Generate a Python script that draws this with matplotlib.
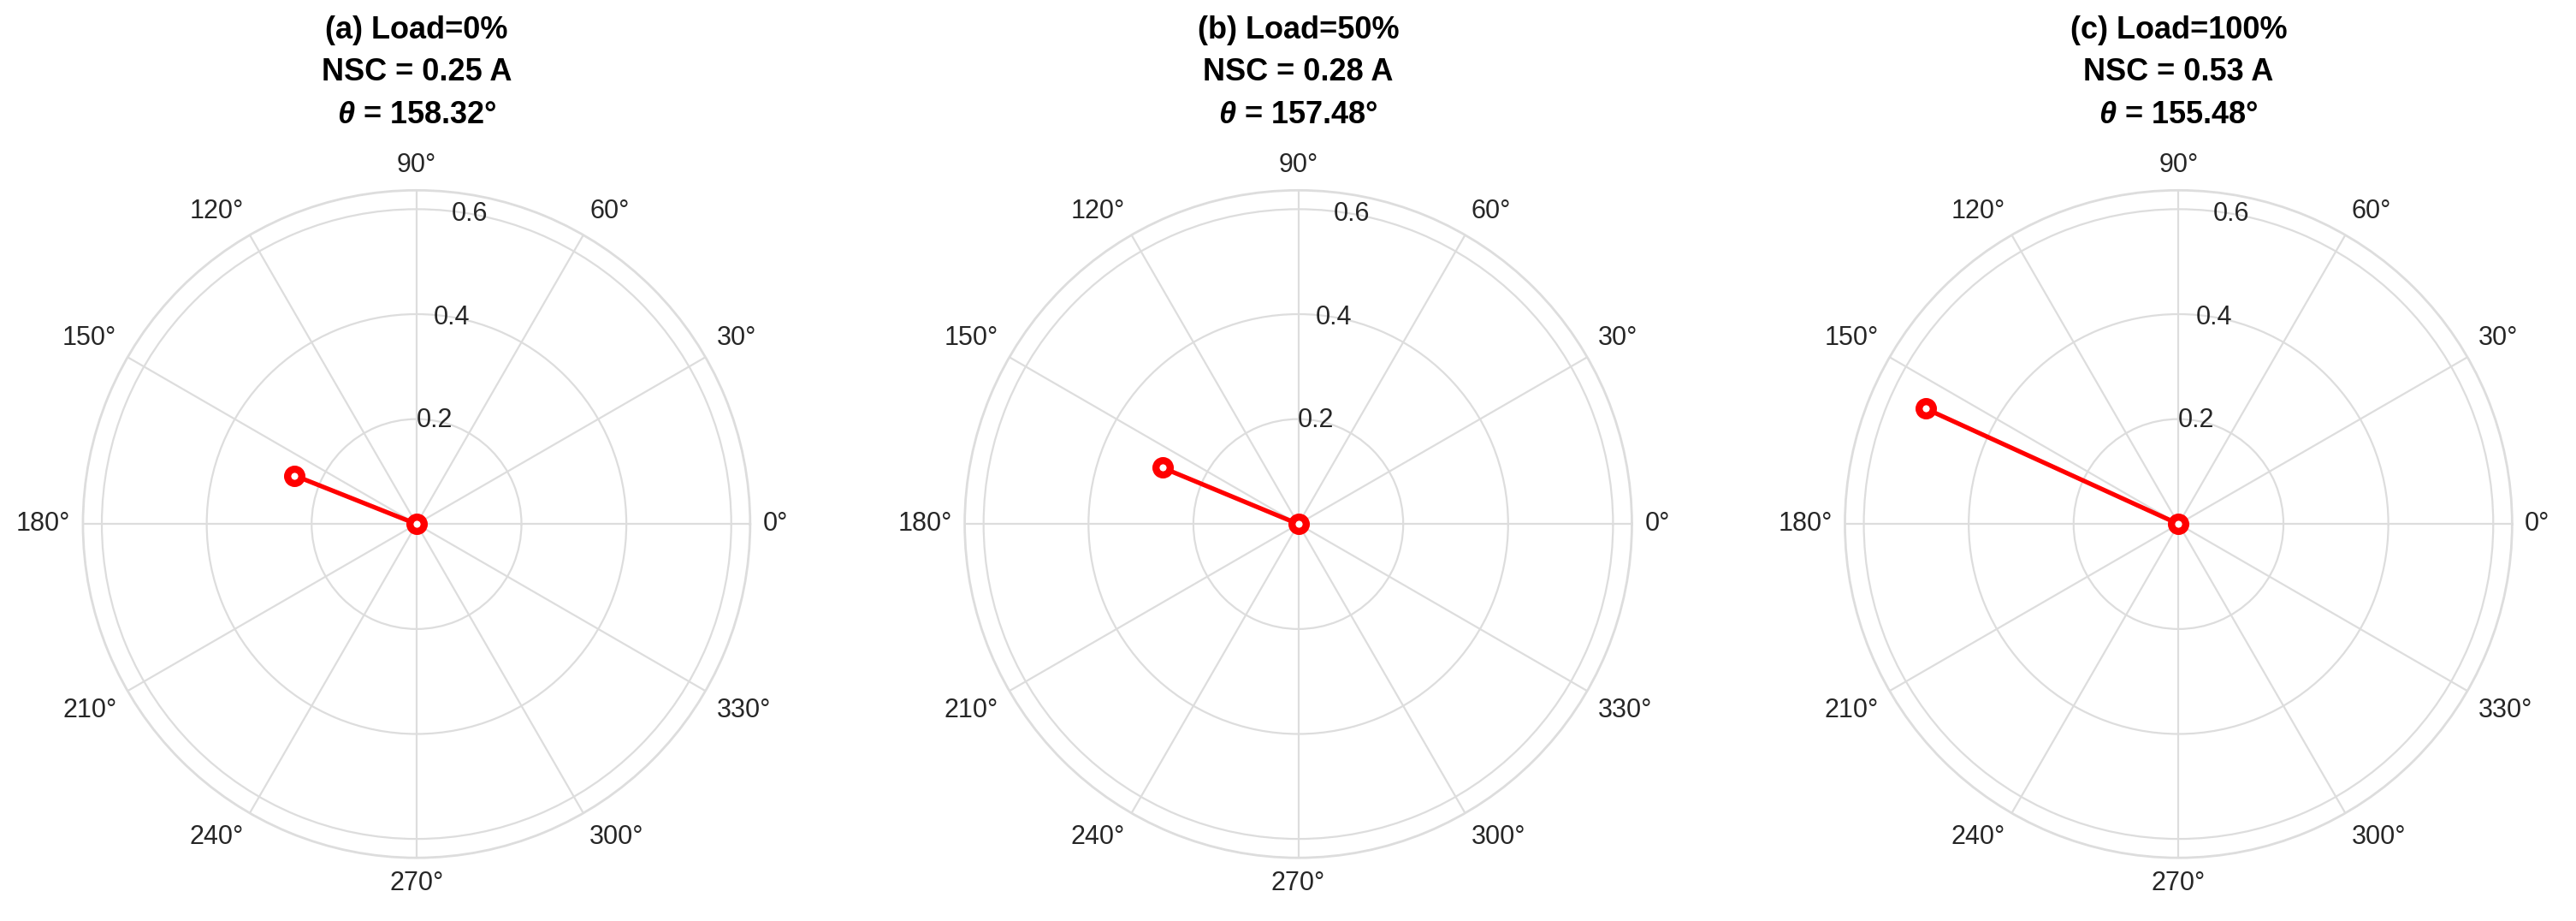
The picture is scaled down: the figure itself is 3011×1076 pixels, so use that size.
import matplotlib
matplotlib.use('Agg')
import matplotlib.pyplot as plt
import numpy as np

# values
panel_labels = ['(a) Load=0%', '(b) Load=50%', '(c) Load=100%']
nsc_amps = [0.25, 0.28, 0.53]
theta_deg = [158.32, 157.48, 155.48]
r_ticks = [0.2, 0.4, 0.6]
theta_ticks = list(range(0, 360, 30))

plt.rcParams['font.family'] = ['Liberation Sans', 'DejaVu Sans']
plt.rcParams['mathtext.fontset'] = 'custom'
plt.rcParams['mathtext.it'] = 'Liberation Sans:italic:bold'

fig = plt.figure(figsize=(15.055, 5.38), dpi=200)
centers = [0.1617, 0.5040, 0.8457]
w, h = 0.2590, 0.7250
yc = 0.4310
rmax = max(nsc_amps) * 1.2
rlabel_angle = np.deg2rad(80.3)
tick_col = '#262626'


def theta_align(deg):
    c, s = np.cos(np.deg2rad(deg)), np.sin(np.deg2rad(deg))
    ha = 'left' if c > 0.01 else ('right' if c < -0.01 else 'center')
    va = 'bottom' if s > 0.01 else ('top' if s < -0.01 else 'center')
    return ha, va


for cx, label, mag, ang in zip(centers, panel_labels, nsc_amps, theta_deg):
    ax = fig.add_axes([cx - w / 2, yc - h / 2, w, h], projection='polar')
    t = np.deg2rad(ang)
    ax.plot([0, t], [0, mag], color='red', lw=1.9, marker='o', ms=6,
            mfc='white', mec='red', mew=3.0, zorder=5)
    ax.set_ylim(0, rmax)
    ax.set_yticks(r_ticks)
    ax.set_yticklabels([])
    for v in r_ticks:
        ax.text(rlabel_angle, v, f'{v:.1f}', ha='center', va='center',
                fontsize=11, color=tick_col, zorder=4)
    ax.set_xticks(np.deg2rad(theta_ticks))
    ax.set_xticklabels([])
    for d in theta_ticks:
        ha, va = theta_align(d)
        ax.text(np.deg2rad(d), rmax * 1.038, f'{d}°', ha=ha, va=va,
                fontsize=11, color=tick_col, clip_on=False)
    ax.grid(True, color='#dddddd', lw=0.8)
    ax.spines['polar'].set_color('#dddddd')
    ax.spines['polar'].set_linewidth(1.0)
    ax.set_title(f'{label}\nNSC = {mag:.2f} A\n$\\theta$ = {ang:.2f}°',
                 fontsize=13, fontweight='bold', y=1.10, pad=0, linespacing=1.55)

fig.savefig('out.png', dpi=200)
